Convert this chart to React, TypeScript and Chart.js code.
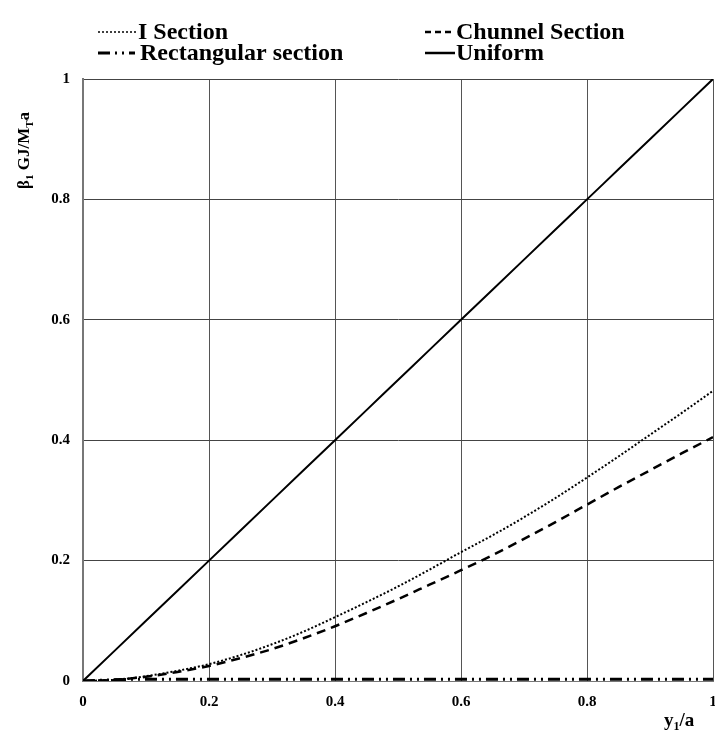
import React, { useEffect, useRef } from 'react';
import { Chart, registerables } from 'chart.js';

Chart.register(...registerables);

// ---- data ----
const xValues = [0, 0.05, 0.1, 0.15, 0.2, 0.25, 0.3, 0.35, 0.4, 0.45, 0.5, 0.55, 0.6, 0.65, 0.7, 0.75, 0.8, 0.85, 0.9, 0.95, 1];
const iSection = [0, 0.002, 0.008, 0.017, 0.028, 0.043, 0.061, 0.082, 0.106, 0.131, 0.157, 0.185, 0.214, 0.242, 0.272, 0.304, 0.338, 0.373, 0.409, 0.445, 0.482];
const chunnelSection = [0, 0.002, 0.007, 0.015, 0.025, 0.038, 0.053, 0.071, 0.091, 0.113, 0.136, 0.16, 0.184, 0.209, 0.236, 0.264, 0.293, 0.322, 0.35, 0.378, 0.405];
const rectangularSection = [0, 0.002, 0.003, 0.003, 0.003, 0.003, 0.003, 0.003, 0.003, 0.003, 0.003, 0.003, 0.003, 0.003, 0.003, 0.003, 0.003, 0.003, 0.003, 0.003, 0.003];
const uniform = [0, 0.05, 0.1, 0.15, 0.2, 0.25, 0.3, 0.35, 0.4, 0.45, 0.5, 0.55, 0.6, 0.65, 0.7, 0.75, 0.8, 0.85, 0.9, 0.95, 1];
const seriesLabels = ['I Section', 'Chunnel Section', 'Rectangular section', 'Uniform'];
const axisMin = 0;
const axisMax = 1;
const tickStep = 0.2;

const FONT = '"Liberation Serif", "Times New Roman", serif';

const dashes: Record<string, number[]> = {
  'I Section': [2, 2],
  'Chunnel Section': [9, 6],
  'Rectangular section': [12, 5, 2, 5, 2, 5],
  'Uniform': [],
};
const widths: Record<string, number> = {
  'I Section': 2,
  'Chunnel Section': 2.5,
  'Rectangular section': 3,
  'Uniform': 2,
};

const overlayPlugin = {
  id: 'overlay',
  afterDraw(chart: any) {
    const ctx = chart.ctx as CanvasRenderingContext2D;
    ctx.save();
    ctx.fillStyle = '#000';
    ctx.strokeStyle = '#000';

    // legend
    const legendPos = [
      { sx0: 98, sx1: 136, tx: 138, y: 32, dashLegend: [2, 2], lw: 1.5 },
      { sx0: 425, sx1: 454, tx: 456, y: 32, dashLegend: [6, 4], lw: 2.5 },
      { sx0: 98, sx1: 135, tx: 140, y: 53, dashLegend: [12, 5, 2, 5, 2, 5], lw: 3 },
      { sx0: 425, sx1: 455, tx: 456, y: 53, dashLegend: [], lw: 2.5 },
    ];
    ctx.font = `bold 24px ${FONT}`;
    ctx.textBaseline = 'middle';
    ctx.textAlign = 'left';
    seriesLabels.forEach((label, i) => {
      const p = legendPos[i];
      ctx.beginPath();
      ctx.setLineDash(p.dashLegend);
      ctx.lineWidth = p.lw;
      ctx.moveTo(p.sx0, p.y);
      ctx.lineTo(p.sx1, p.y);
      ctx.stroke();
      ctx.setLineDash([]);
      ctx.fillText(label, p.tx, p.y + 1);
    });

    // y-axis title (rotated)  β1 GJ/MTa
    ctx.save();
    ctx.translate(29, 189);
    ctx.rotate(-Math.PI / 2);
    ctx.textBaseline = 'alphabetic';
    const big = `bold 17px ${FONT}`;
    const small = `bold 11px ${FONT}`;
    const parts: [string, boolean][] = [['β', false], ['1', true], [' GJ/M', false], ['T', true], ['a', false]];
    let x = 0;
    parts.forEach(([t, sub]) => {
      ctx.font = sub ? small : big;
      ctx.fillText(t, x, sub ? 4 : 0);
      x += ctx.measureText(t).width;
    });
    ctx.restore();

    // x-axis title  y1/a
    ctx.textBaseline = 'alphabetic';
    const xparts: [string, boolean][] = [['y', false], ['1', true], ['/a', false]];
    let xx = 664;
    xparts.forEach(([t, sub]) => {
      ctx.font = sub ? `bold 12px ${FONT}` : `bold 19px ${FONT}`;
      ctx.fillText(t, xx, sub ? 730 : 726);
      xx += ctx.measureText(t).width;
    });

    ctx.restore();
  },
};

export default function App() {
  const ref = useRef<HTMLCanvasElement | null>(null);

  useEffect(() => {
    if (!ref.current) return;
    const series = [iSection, chunnelSection, rectangularSection, uniform];
    const chart = new Chart(ref.current, {
      type: 'line',
      data: {
        datasets: seriesLabels.map((label, i) => ({
          label,
          data: xValues.map((x, j) => ({ x, y: series[i][j] })),
          borderColor: '#000',
          borderWidth: widths[label],
          borderDash: dashes[label],
          pointRadius: 0,
          fill: false,
          cubicInterpolationMode: 'monotone' as const,
        })),
      },
      options: {
        responsive: false,
        animation: false,
        layout: { padding: { top: 79, right: 2, left: 0, bottom: 0 } },
        plugins: {
          legend: { display: false },
          tooltip: { enabled: false },
          title: { display: false },
        },
        scales: {
          x: {
            type: 'linear',
            min: axisMin,
            max: axisMax,
            ticks: {
              stepSize: tickStep,
              padding: 12,
              color: '#000',
              font: { family: FONT, size: 15, weight: 'bold' },
              maxRotation: 0,
              callback: (v: any) => String(Number(Number(v).toFixed(1))),
            },
            grid: { color: '#555', lineWidth: 1, drawTicks: false },
            border: { color: '#777', width: 1 },
            afterFit: (scale: any) => {
              scale.height = 52;
              scale.paddingRight = 0;
              scale.paddingLeft = 0;
            },
          },
          y: {
            type: 'linear',
            min: axisMin,
            max: axisMax,
            ticks: {
              stepSize: tickStep,
              padding: 13,
              color: '#000',
              font: { family: FONT, size: 15, weight: 'bold' },
              callback: (v: any) => String(Number(Number(v).toFixed(1))),
            },
            grid: { color: '#444', lineWidth: 1, drawTicks: false },
            border: { color: '#777', width: 2 },
            afterFit: (scale: any) => {
              scale.width = 83;
              scale.paddingTop = 0;
              scale.paddingBottom = 0;
            },
          },
        },
      },
      plugins: [overlayPlugin],
    });
    return () => chart.destroy();
  }, []);

  return (
    <div style={{ position: 'absolute', left: 0, top: 0, width: 715, height: 733, background: '#fff' }}>
      <canvas ref={ref} width={715} height={733} style={{ display: 'block' }} />
    </div>
  );
}
